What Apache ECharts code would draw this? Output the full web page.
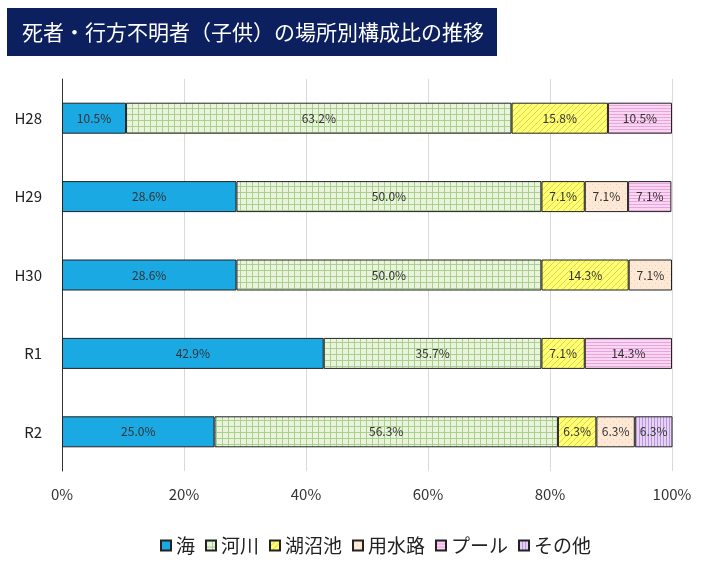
<!DOCTYPE html>
<html><head><meta charset="utf-8">
<script src="https://cdn.jsdelivr.net/npm/echarts@6/dist/echarts.min.js"></script>
<style>html,body{margin:0;padding:0;background:#fff}#c{width:706px;height:570px}</style>
</head><body><div id="c"></div>
<script>
const categories = ['H28','H29','H30','R1','R2'];
const seriesNames = ['海','河川','湖沼池','用水路','プール','その他'];
const umi      = [10.5, 28.6, 28.6, 42.9, 25.0];
const kasen    = [63.2, 50.0, 50.0, 35.7, 56.3];
const koshouchi= [15.8, 7.1, 14.3, 7.1, 6.3];
const yousuiro = [0, 7.1, 7.1, 0, 6.3];
const pool     = [10.5, 7.1, 0, 14.3, 0];
const sonota   = [0, 0, 0, 0, 6.3];
const xTicks = [0,20,40,60,80,100];
const title = '死者・行方不明者（子供）の場所別構成比の推移';

function pat(bg, fg, kind){
  const c=document.createElement('canvas');
  const s = 6; c.width=s; c.height=s;
  const g=c.getContext('2d');
  g.fillStyle=bg; g.fillRect(0,0,s,s);
  g.strokeStyle=fg; g.fillStyle=fg; g.lineWidth=1;
  if(kind==='grid'){ g.fillRect(0,0,s,1); g.fillRect(0,0,1,s); }
  else if(kind==='diag'){ g.beginPath(); g.moveTo(0,s); g.lineTo(s,0); g.stroke(); g.beginPath(); g.moveTo(-1,1);g.lineTo(1,-1);g.stroke(); g.beginPath(); g.moveTo(s-1,s+1);g.lineTo(s+1,s-1);g.stroke(); }
  else if(kind==='dot'){ g.fillRect(1,1,1,1); g.fillRect(4,4,1,1); }
  else if(kind==='h'){ g.fillRect(0,0,s,1); g.fillRect(0,3,s,1); }
  else if(kind==='v'){ g.fillRect(0,0,1,s); g.fillRect(3,0,1,s); }
  return {image:c, repeat:'repeat'};
}
const fills = [
  '#1aa9e3',
  pat('#eaf4dd','#a9d08e','grid'),
  pat('#ffff73','#e6d14a','diag'),
  pat('#fde9d5','#f0cfae','dot'),
  pat('#fbd6f3','#e6a6dc','h'),
  pat('#e6d2f5','#b996dc','v')
];
const dataSets = [umi,kasen,koshouchi,yousuiro,pool,sonota];
const series = seriesNames.map((n,i)=>({
  name:n, type:'bar', stack:'s', barWidth:31,
  data: dataSets[i].map(v=> v===0? null : v),
  itemStyle:{color:fills[i], borderColor:'#222', borderWidth:1},
  label:{show:true, position:'inside', color:'#333', fontSize:12, fontFamily:'Noto Sans CJK JP',
    formatter:p=> p.value==null? '' : p.value.toFixed(1)+'%'},
  emphasis:{disabled:true}
}));
const chart = echarts.init(document.getElementById('c'),null,{renderer:'canvas'});
chart.setOption({
  animation:false,
  graphic:[
    {type:'rect', shape:{x:7,y:8,width:490,height:48}, style:{fill:'#0c1f5e'}},
    {type:'text', x:22, y:32, style:{text:title, fill:'#fff', fontSize:21, fontFamily:'Noto Sans CJK JP', verticalAlign:'middle', textAlign:'left'}}
  ],
  grid:{left:62, right:34, top:79, bottom:99},
  xAxis:{type:'value', min:0, max:100, interval:20,
    axisLabel:{formatter:v=> xTicks.includes(v)? v+'%':'', color:'#333', fontSize:15, margin:16, fontFamily:'Noto Sans CJK JP'},
    splitLine:{lineStyle:{color:'#d9d9d9'}}, axisLine:{show:false}, axisTick:{show:false}},
  yAxis:{type:'category', data:categories, inverse:true,
    axisLine:{lineStyle:{color:'#333'}}, axisTick:{show:false},
    axisLabel:{color:'#222', fontSize:15, margin:20, fontFamily:'Noto Sans CJK JP'}},
  legend:{top:531, left:155, icon:'rect', itemWidth:10, itemHeight:10, itemGap:10,
    textStyle:{fontSize:19, color:'#222', fontFamily:'Noto Sans CJK JP'},
    data:seriesNames},
  series
});
</script></body></html>
